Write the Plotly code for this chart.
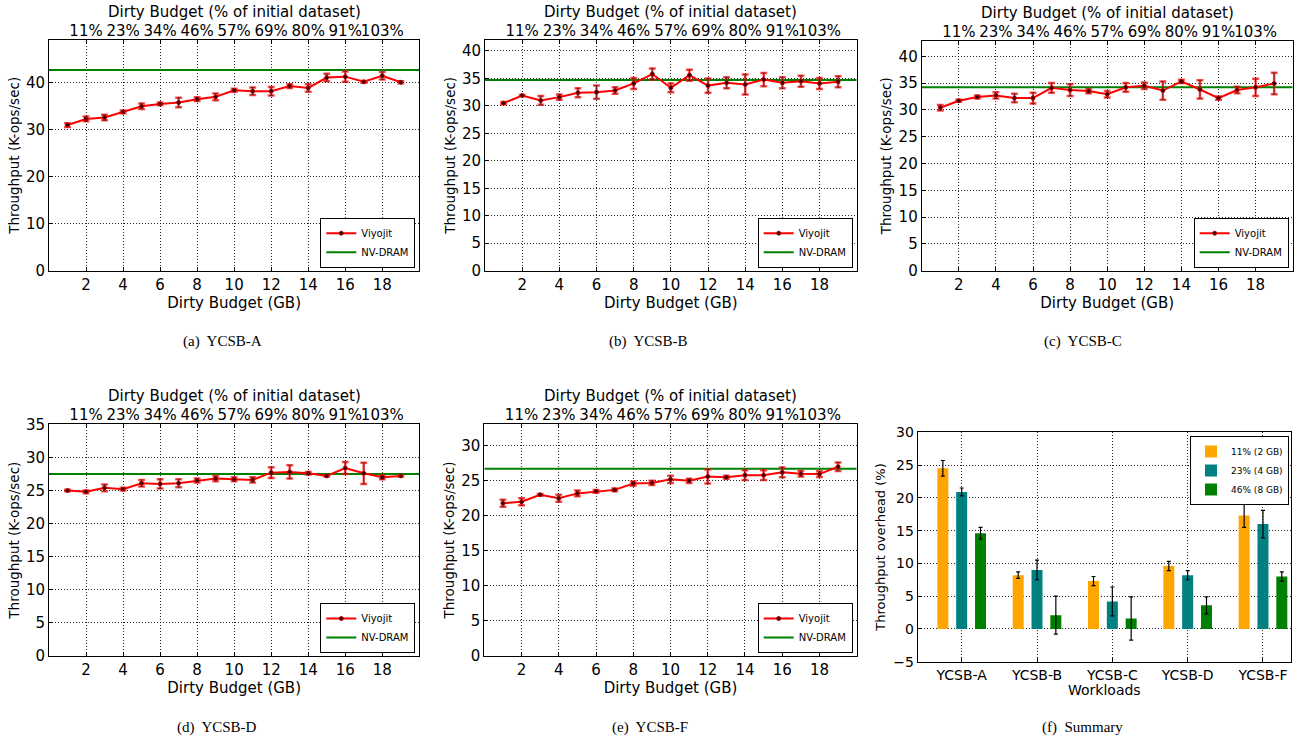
import plotly.graph_objects as go

W, H = 1296, 740

# ---------------- data ----------------
budget_gb = list(range(1, 20))
top_tick_gb = [2, 4, 6, 8, 10, 12, 14, 16, 18]
top_tick_labels = ["11%", "23%", "34%", "46%", "57%", "69%", "80%", "91%", "103%"]
x_limits = [0, 20]

a_vals = [31.0, 32.3, 32.6, 33.8, 35.0, 35.5, 35.8, 36.5, 37.0, 38.4, 38.2, 38.2, 39.3, 38.9, 41.1, 41.3, 40.2, 41.5, 40.1]
a_err = [0.4, 0.5, 0.6, 0.3, 0.6, 0.3, 1.0, 0.4, 0.7, 0.3, 0.8, 0.9, 0.4, 0.8, 0.8, 1.1, 0.2, 0.8, 0.2]
a_nv = 42.7

b_vals = [30.5, 31.9, 31.0, 31.6, 32.4, 32.5, 32.8, 34.1, 35.8, 33.3, 35.6, 33.7, 34.2, 33.9, 34.8, 34.2, 34.5, 34.1, 34.4]
b_err = [0.2, 0.1, 0.8, 0.5, 0.8, 1.2, 0.6, 1.0, 1.0, 0.8, 1.0, 1.3, 1.0, 1.8, 1.2, 1.0, 1.0, 1.0, 1.0]
b_nv = 34.7

c_vals = [30.4, 31.7, 32.4, 32.7, 32.2, 32.2, 34.1, 33.7, 33.5, 32.9, 34.2, 34.5, 33.6, 35.3, 33.8, 32.2, 33.7, 34.2, 34.9]
c_err = [0.5, 0.2, 0.3, 0.6, 0.8, 1.0, 0.9, 1.1, 0.4, 0.6, 0.8, 0.6, 1.7, 0.3, 1.7, 0.3, 0.6, 1.6, 2.0]
c_nv = 34.2

d_vals = [25.0, 24.8, 25.4, 25.2, 26.1, 26.0, 26.1, 26.5, 26.8, 26.7, 26.6, 27.7, 27.8, 27.6, 27.2, 28.4, 27.6, 27.0, 27.2]
d_err = [0.1, 0.2, 0.5, 0.2, 0.5, 0.7, 0.6, 0.3, 0.4, 0.3, 0.4, 0.8, 1.0, 0.2, 0.1, 0.9, 1.6, 0.3, 0.1]
d_nv = 27.5

e_vals = [21.8, 22.0, 23.0, 22.5, 23.2, 23.5, 23.7, 24.6, 24.7, 25.2, 25.0, 25.6, 25.5, 25.8, 25.8, 26.2, 26.0, 25.95, 27.0]
e_err = [0.5, 0.5, 0.1, 0.5, 0.4, 0.2, 0.2, 0.3, 0.3, 0.5, 0.3, 1.0, 0.2, 0.7, 0.7, 0.7, 0.4, 0.4, 0.6]
e_nv = 26.7

workloads = ["YCSB-A", "YCSB-B", "YCSB-C", "YCSB-D", "YCSB-F"]
summary_names = ["11% (2 GB)", "23% (4 GB)", "46% (8 GB)"]
ovh_2gb = [24.5, 8.2, 7.3, 9.6, 17.3]
ovh_2gb_err = [1.2, 0.5, 0.7, 0.7, 1.8]
ovh_4gb = [20.9, 9.0, 4.2, 8.2, 16.0]
ovh_4gb_err = [0.6, 1.5, 2.2, 0.7, 2.1]
ovh_8gb = [14.6, 2.1, 1.6, 3.6, 8.0]
ovh_8gb_err = [0.9, 2.9, 3.3, 1.3, 0.7]

# ---------------- layout helpers ----------------
FONT = "DejaVu Sans"
TF = 15  # tick / axis label font size
def xd(a, b):
    return [a / W, b / W]
def yd(top, bottom):
    return [1 - bottom / H, 1 - top / H]

panels = [
    # vals, err, nv, ymax, dtick, xdom(px), ydom(px), caption, caption pos
    (a_vals, a_err, a_nv, 49.1, 10, (49, 419.3), (40, 270.7), "(a)  YCSB-A", (222, 341)),
    (b_vals, b_err, b_nv, 42.0, 5, (485, 856.7), (40, 270.7), "(b)  YCSB-B", (648, 341)),
    (c_vals, c_err, c_nv, 42.9, 5, (921.7, 1292.7), (40.7, 270.7), "(c)  YCSB-C", (1083, 341)),
    (d_vals, d_err, d_nv, 35.0, 5, (49, 419.3), (424.3, 656), "(d)  YCSB-D", (217, 727)),
    (e_vals, e_err, e_nv, 33.1, 5, (484.3, 856.7), (424, 656), "(e)  YCSB-F", (650, 727)),
]

fig = go.Figure()
layout = dict(
    width=W, height=H, margin=dict(l=0, r=0, t=0, b=0),
    paper_bgcolor="white", plot_bgcolor="white",
    font=dict(family=FONT, size=13, color="black"),
    showlegend=True,
    annotations=[],
)

grid_common = dict(showgrid=True, gridcolor="rgba(0,0,0,0.85)", griddash="1px,2px", gridwidth=1,
                   showline=True, linecolor="black", linewidth=1, mirror=True,
                   ticks="inside", ticklen=4, tickcolor="black", zeroline=False,
                   automargin=False,
                   tickfont=dict(family=FONT, size=TF, color="black"))

for i, (vals, err, nv, ymax, dtick, xdp, ydp, cap, cpos) in enumerate(panels):
    k = i + 1
    xs = "" if k == 1 else str(k)
    tk = 6 + k  # top axis id
    leg = "legend" if k == 1 else f"legend{k}"
    xa = dict(grid_common, domain=xd(*xdp), anchor=f"y{xs}", range=x_limits,
              tickvals=[2, 4, 6, 8, 10, 12, 14, 16, 18], tickangle=0,
              title=dict(text="Dirty Budget (GB)", font=dict(size=TF), standoff=0))
    ya = dict(grid_common, domain=yd(*ydp), anchor=f"x{xs}", range=[0, ymax], dtick=dtick, tick0=0,
              title=dict(text="Throughput (K-ops/sec)", font=dict(size=13.5), standoff=3))
    ta = dict(overlaying=f"x{xs}", side="top", anchor=f"y{xs}", range=x_limits,
              tickvals=top_tick_gb, ticktext=top_tick_labels, ticks="inside", ticklen=4,
              tickangle=0,
              tickcolor="black", showgrid=False, zeroline=False, showline=False, automargin=False,
              tickfont=dict(family=FONT, size=TF, color="black"))
    layout[f"xaxis{xs}"] = xa
    layout[f"yaxis{xs}"] = ya
    layout[f"xaxis{tk}"] = ta

    # NV-DRAM baseline
    fig.add_trace(go.Scatter(x=x_limits, y=[nv, nv], mode="lines", name="NV-DRAM",
                             line=dict(color="#008000", width=2), xaxis=f"x{xs}", yaxis=f"y{xs}",
                             legend=leg, showlegend=True, legendrank=2))
    # translucent red error bars
    fig.add_trace(go.Scatter(x=budget_gb, y=vals, mode="markers", marker=dict(size=1, opacity=0),
                             error_y=dict(type="data", array=err, color="rgba(255,20,20,0.75)",
                                          thickness=2.5, width=3.5),
                             xaxis=f"x{xs}", yaxis=f"y{xs}", showlegend=False, hoverinfo="skip"))
    # main line
    fig.add_trace(go.Scatter(x=budget_gb, y=vals, mode="lines+markers", name="Viyojit",
                             line=dict(color="#FF0000", width=2),
                             marker=dict(color="#300000", size=4, line=dict(color="#B00000", width=1)),
                             error_y=dict(type="data", array=err, color="#400000", thickness=0.6, width=2),
                             xaxis=f"x{xs}", yaxis=f"y{xs}", legend=leg, legendrank=1))
    # invisible trace for top axis
    fig.add_trace(go.Scatter(x=top_tick_gb, y=[0] * len(top_tick_gb), mode="markers",
                             marker=dict(opacity=0), xaxis=f"x{tk}", yaxis=f"y{xs}",
                             showlegend=False, hoverinfo="skip"))

    layout[leg] = dict(x=(xdp[1] - 4) / W, y=1 - (ydp[1] - 3) / H, xanchor="right", yanchor="bottom",
                       bgcolor="white", bordercolor="black", borderwidth=1,
                       font=dict(family=FONT, size=10), tracegroupgap=0, itemwidth=30)
    # top axis title
    layout["annotations"].append(dict(text="Dirty Budget (% of initial dataset)",
                                      x=(xdp[0] + xdp[1]) / 2 / W, y=1 - (ydp[0] - 28) / H,
                                      xref="paper", yref="paper", showarrow=False,
                                      xanchor="center", yanchor="middle",
                                      font=dict(family=FONT, size=TF, color="black")))
    layout["annotations"].append(dict(text=cap, x=cpos[0] / W, y=1 - cpos[1] / H, xref="paper", yref="paper",
                                      showarrow=False, xanchor="center", yanchor="middle",
                                      font=dict(family="Liberation Serif", size=15, color="black")))

# ---------------- summary panel ----------------
fxd = (917.7, 1291)
fyd = (432.3, 661.7)
layout["xaxis6"] = dict(grid_common, domain=xd(*fxd), anchor="y6", type="category", tickangle=0,
                        range=[-0.584, 4.372], tickfont=dict(family=FONT, size=14, color="black"),
                        title=dict(text="Workloads", font=dict(size=14), standoff=0))
layout["yaxis6"] = dict(grid_common, domain=yd(*fyd), anchor="x6", range=[-5, 30], dtick=5, tick0=0,
                        tickfont=dict(family=FONT, size=14, color="black"),
                        title=dict(text="Throughput overhead (%)", font=dict(size=13), standoff=4))
layout["barmode"] = "group"
layout["bargap"] = 0.25
layout["bargroupgap"] = 0.416
bar_colors = ["#FFA500", "#008080", "#008000"]
for name, v, e, col in zip(summary_names, [ovh_2gb, ovh_4gb, ovh_8gb],
                           [ovh_2gb_err, ovh_4gb_err, ovh_8gb_err], bar_colors):
    fig.add_trace(go.Bar(x=workloads, y=v, name=name, marker=dict(color=col, line=dict(width=0)),
                         error_y=dict(type="data", array=e, color="black", thickness=1.2, width=2),
                         xaxis="x6", yaxis="y6", legend="legend6"))
layout["legend6"] = dict(x=1289 / W, y=1 - 436 / H, xanchor="right", yanchor="top",
                         bgcolor="white", bordercolor="black", borderwidth=1,
                         font=dict(family=FONT, size=9), tracegroupgap=0)
layout["annotations"].append(dict(text="(f)  Summary", x=1082 / W, y=1 - 727 / H, xref="paper", yref="paper",
                                  showarrow=False, xanchor="center", yanchor="middle",
                                  font=dict(family="Liberation Serif", size=15, color="black")))

fig.update_layout(**layout)
fig.write_html("out.html")
